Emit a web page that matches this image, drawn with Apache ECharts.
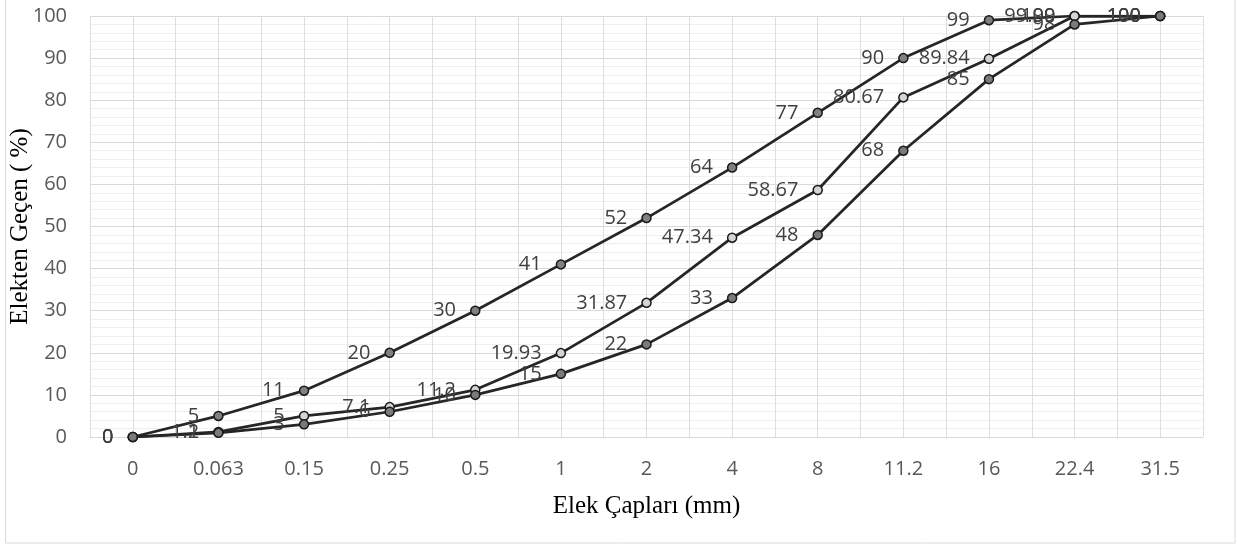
<!DOCTYPE html>
<html>
<head>
<meta charset="utf-8">
<script src="https://cdn.jsdelivr.net/npm/echarts@6/dist/echarts.min.js"></script>
<style>
html,body{margin:0;padding:0;background:#fff;}
#c{width:1237px;height:545px;}
</style>
</head>
<body>
<div id="c"></div>
<script>
var categories = ['0','0.063','0.15','0.25','0.5','1','2','4','8','11.2','16','22.4','31.5'];
var upperSeries = [0,5,11,20,30,41,52,64,77,90,99,100,100];
var middleSeries = [0,1.2,5,7.1,11.2,19.93,31.87,47.34,58.67,80.67,89.84,99.99,100];
var lowerSeries = [0,1,3,6,10,15,22,33,48,68,85,98,100];
var yTicks = {min:0, max:100, interval:10};

var chart = echarts.init(document.getElementById('c'));
var labelFont = 'Open Sans';
function mkSeries(name, data, fill){
  return {
    name: name,
    type: 'line',
    data: data,
    xAxisIndex: 0,
    yAxisIndex: 0,
    symbol: 'circle',
    symbolSize: 9,
    lineStyle: {color:'#262626', width:2.75},
    itemStyle: {color: fill, borderColor:'#1a1a1a', borderWidth:1.5},
    label: {show:true, position:'left', distance:14, color:'#404040',
            fontFamily: labelFont, fontSize:20},
    emphasis: {disabled:true},
    animation: false
  };
}
chart.setOption({
  animation: false,
  graphic: [{type:'rect', shape:{x:5.5, y:-5, width:1229.5, height:548}, style:{fill:'none', stroke:'#d9d9d9', lineWidth:1}, silent:true}],
  grid: {left:90, right:34, top:16, bottom:108, containLabel:false, outerBoundsMode:'none'},
  xAxis: [{
    type: 'category',
    data: categories,
    boundaryGap: true,
    axisLine: {show:true, lineStyle:{color:'#d9d9d9', width:1}},
    axisTick: {show:false},
    axisLabel: {color:'#595959', fontFamily: labelFont, fontSize:20, margin:22},
    splitLine: {show:false},
    name: 'Elek Çapları (mm)',
    nameLocation: 'middle',
    nameGap: 57,
    nameMoveOverlap: false,
    nameTextStyle: {fontFamily:'Liberation Serif', fontSize:25, color:'#000'}
  },{
    type: 'value',
    min: 0, max: 26, interval: 1,
    position: 'bottom',
    axisLine: {show:false}, axisTick:{show:false}, axisLabel:{show:false},
    splitLine: {show:true, lineStyle:{color:'#dedede', width:1}}
  }],
  yAxis: {
    type: 'value',
    min: yTicks.min, max: yTicks.max, interval: yTicks.interval,
    axisLine: {show:false},
    axisTick: {show:false},
    axisLabel: {color:'#595959', fontFamily: labelFont, fontSize:20, margin:23},
    splitLine: {show:true, lineStyle:{color:'#d9d9d9', width:1}},
    minorTick: {show:false, splitNumber:5},
    minorSplitLine: {show:true, lineStyle:{color:'#efefef', width:1}},
    name: 'Elekten Geçen ( %)',
    nameLocation: 'middle',
    nameGap: 57,
    nameMoveOverlap: false,
    nameTextStyle: {fontFamily:'Liberation Serif', fontSize:25, color:'#000'}
  },
  series: [
    mkSeries('upper', upperSeries, '#808080'),
    mkSeries('middle', middleSeries, '#d4d4d4'),
    mkSeries('lower', lowerSeries, '#7a7a7a')
  ]
});
</script>
</body>
</html>
